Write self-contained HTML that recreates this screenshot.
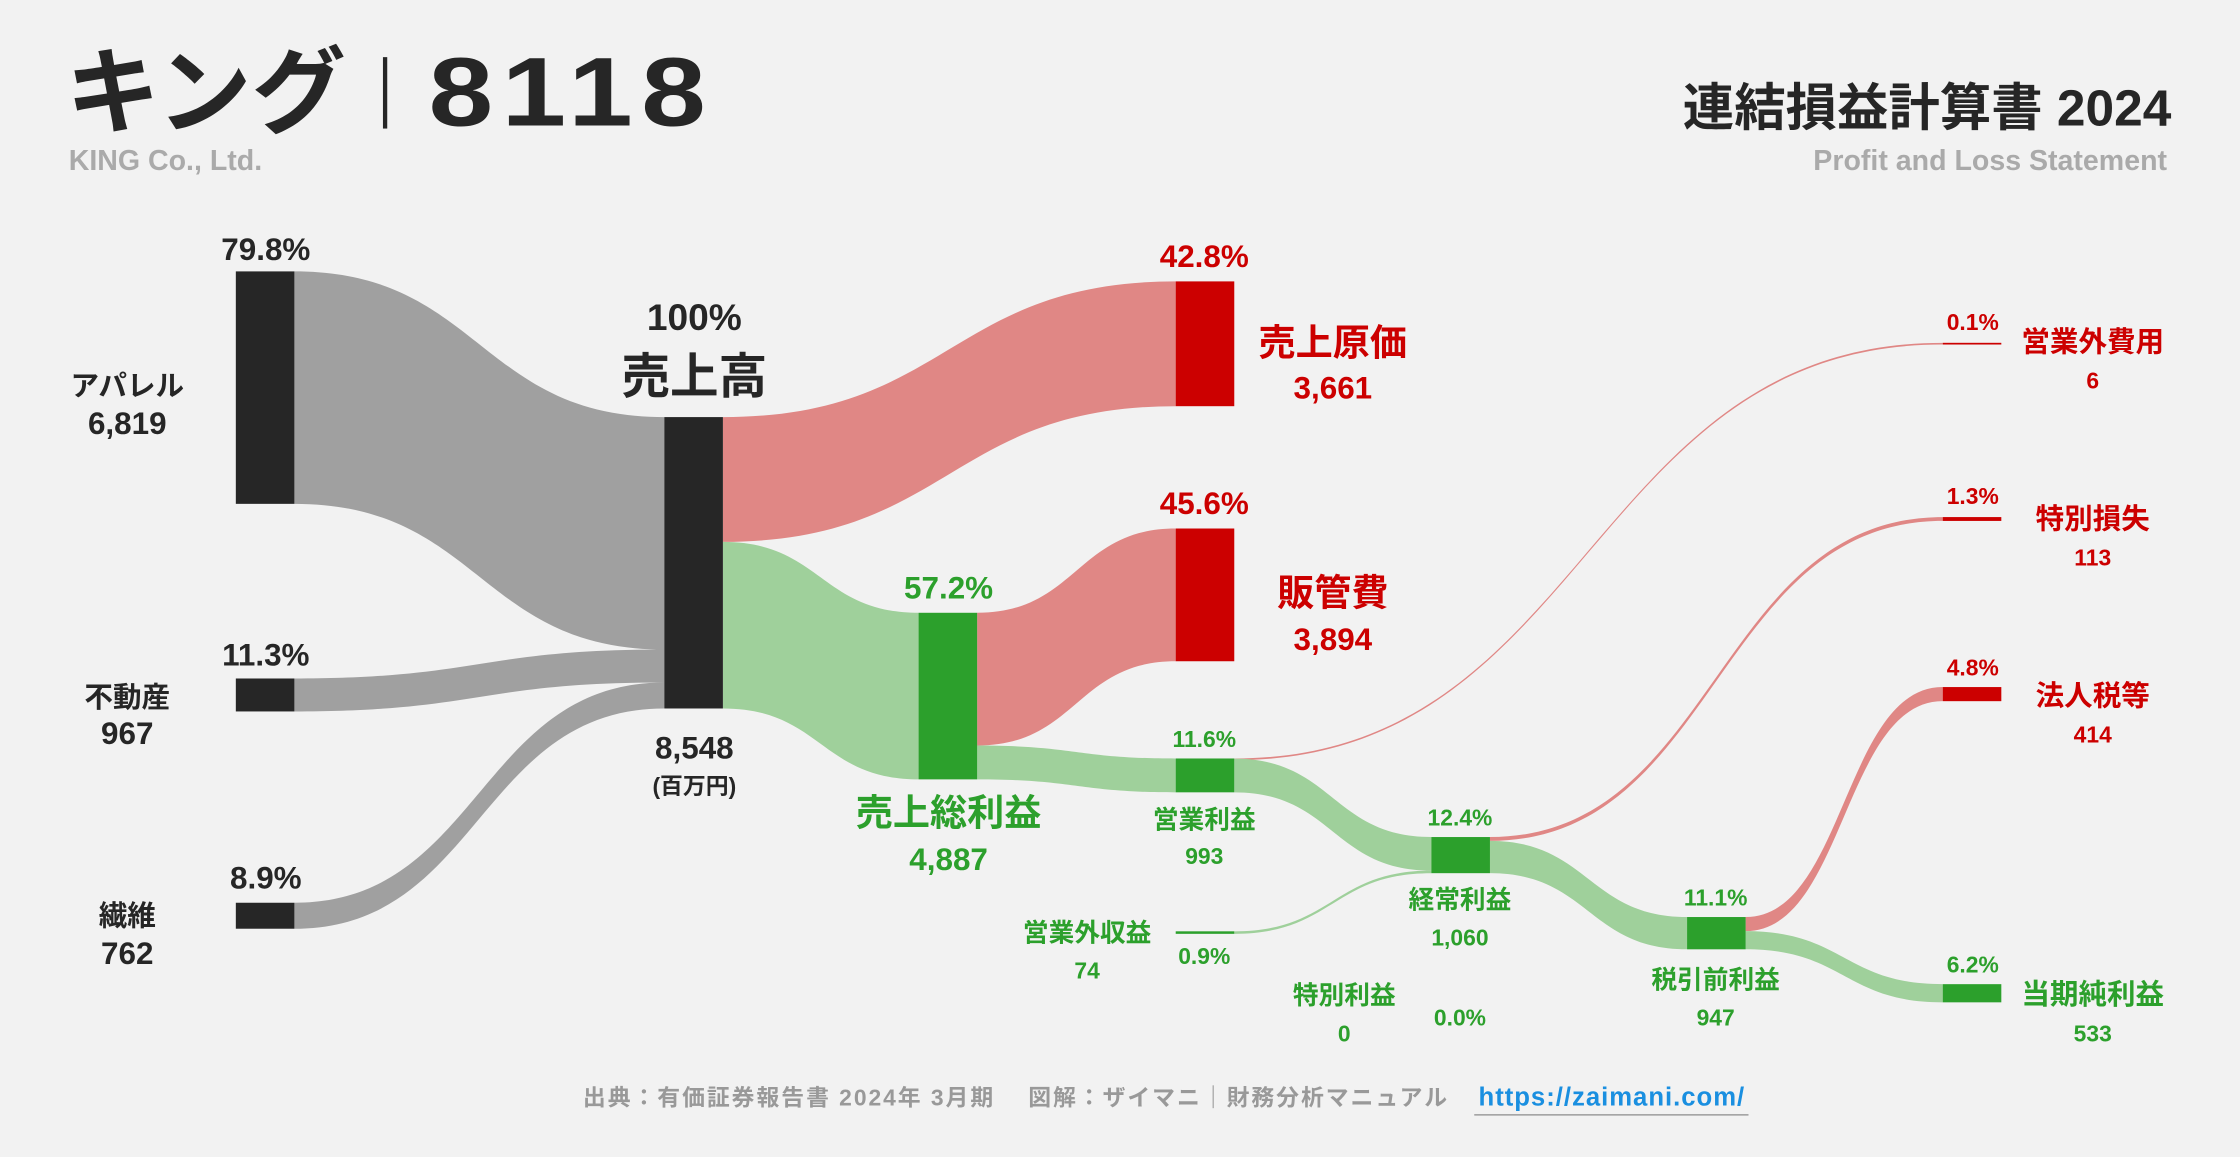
<!DOCTYPE html>
<html><head><meta charset="utf-8">
<style>
html,body{margin:0;padding:0;background:#f2f2f2;}
svg{display:block;}
text{font-family:"Liberation Sans","Noto Sans CJK JP",sans-serif;font-weight:bold;}
</style></head>
<body>
<svg id="chart" width="2240" height="1157" viewBox="0 0 1568 810" xmlns="http://www.w3.org/2000/svg">
<rect width="1568" height="810" fill="#f2f2f2"/>
<g>
<text x="46" y="88" font-size="66" fill="#262626">キング</text>
<rect x="268" y="40" width="3" height="50" fill="#262626"/>
<text x="300" y="88" font-size="68" letter-spacing="5" fill="#262626" textLength="200" lengthAdjust="spacingAndGlyphs">8118</text>
<text x="48" y="119" font-size="20" fill="#aaaaaa">KING Co., Ltd.</text>
<text x="1520" y="88" font-size="36" fill="#262626" text-anchor="end">連結損益計算書 2024</text>
<text x="1517" y="119" font-size="20" fill="#aaaaaa" text-anchor="end">Profit and Loss Statement</text>
</g>
<g id="links"></g>
<g id="nodes"></g>
<g font-size="20">
<text x="186" y="182" text-anchor="middle" font-size="22" fill="#262626">79.8%</text>
<text x="89" y="277" text-anchor="middle" font-size="20" fill="#262626">アパレル</text>
<text x="89" y="304" text-anchor="middle" font-size="22" fill="#262626">6,819</text>
<text x="186" y="466" text-anchor="middle" font-size="22" fill="#262626">11.3%</text>
<text x="89" y="495" text-anchor="middle" fill="#262626">不動産</text>
<text x="89" y="521" text-anchor="middle" font-size="22" fill="#262626">967</text>
<text x="186" y="622" text-anchor="middle" font-size="22" fill="#262626">8.9%</text>
<text x="89" y="648" text-anchor="middle" fill="#262626">繊維</text>
<text x="89" y="675" text-anchor="middle" font-size="22" fill="#262626">762</text>
<text x="486" y="231" text-anchor="middle" font-size="26" fill="#262626">100%</text>
<text x="486" y="275" text-anchor="middle" font-size="34" fill="#262626">売上高</text>
<text x="486" y="531" text-anchor="middle" font-size="22" fill="#262626">8,548</text>
<text x="486" y="556" text-anchor="middle" font-size="16" fill="#262626">(百万円)</text>
<text x="843" y="187" text-anchor="middle" font-size="22" fill="#cc0000">42.8%</text>
<text x="933" y="249" text-anchor="middle" font-size="26" fill="#cc0000">売上原価</text>
<text x="933" y="279" text-anchor="middle" font-size="22" fill="#cc0000">3,661</text>
<text x="843" y="360" text-anchor="middle" font-size="22" fill="#cc0000">45.6%</text>
<text x="933" y="424" text-anchor="middle" font-size="26" fill="#cc0000">販管費</text>
<text x="933" y="455" text-anchor="middle" font-size="22" fill="#cc0000">3,894</text>
<text x="664" y="419" text-anchor="middle" font-size="22" fill="#2ca02c">57.2%</text>
<text x="664" y="578" text-anchor="middle" font-size="26" fill="#2ca02c">売上総利益</text>
<text x="664" y="609" text-anchor="middle" font-size="22" fill="#2ca02c">4,887</text>
<text x="843" y="523" text-anchor="middle" font-size="16" fill="#2ca02c">11.6%</text>
<text x="843" y="580" text-anchor="middle" font-size="18" fill="#2ca02c">営業利益</text>
<text x="843" y="605" text-anchor="middle" font-size="16" fill="#2ca02c">993</text>
<text x="1022" y="578" text-anchor="middle" font-size="16" fill="#2ca02c">12.4%</text>
<text x="1022" y="636" text-anchor="middle" font-size="18" fill="#2ca02c">経常利益</text>
<text x="1022" y="662" text-anchor="middle" font-size="16" fill="#2ca02c">1,060</text>
<text x="1201" y="634" text-anchor="middle" font-size="16" fill="#2ca02c">11.1%</text>
<text x="1201" y="692" text-anchor="middle" font-size="18" fill="#2ca02c">税引前利益</text>
<text x="1201" y="718" text-anchor="middle" font-size="16" fill="#2ca02c">947</text>
<text x="1381" y="681" text-anchor="middle" font-size="16" fill="#2ca02c">6.2%</text>
<text x="1465" y="703" text-anchor="middle" font-size="20" fill="#2ca02c">当期純利益</text>
<text x="1465" y="729" text-anchor="middle" font-size="16" fill="#2ca02c">533</text>
<text x="1381" y="473" text-anchor="middle" font-size="16" fill="#cc0000">4.8%</text>
<text x="1465" y="494" text-anchor="middle" font-size="20" fill="#cc0000">法人税等</text>
<text x="1465" y="520" text-anchor="middle" font-size="16" fill="#cc0000">414</text>
<text x="1381" y="353" text-anchor="middle" font-size="16" fill="#cc0000">1.3%</text>
<text x="1465" y="370" text-anchor="middle" font-size="20" fill="#cc0000">特別損失</text>
<text x="1465" y="396" text-anchor="middle" font-size="16" fill="#cc0000">113</text>
<text x="1381" y="231" text-anchor="middle" font-size="16" fill="#cc0000">0.1%</text>
<text x="1465" y="246" text-anchor="middle" font-size="20" fill="#cc0000">営業外費用</text>
<text x="1465" y="272" text-anchor="middle" font-size="16" fill="#cc0000">6</text>
<text x="761" y="659" text-anchor="middle" font-size="18" fill="#2ca02c">営業外収益</text>
<text x="761" y="685" text-anchor="middle" font-size="16" fill="#2ca02c">74</text>
<text x="843" y="675" text-anchor="middle" font-size="16" fill="#2ca02c">0.9%</text>
<text x="941" y="703" text-anchor="middle" font-size="18" fill="#2ca02c">特別利益</text>
<text x="941" y="729" text-anchor="middle" font-size="16" fill="#2ca02c">0</text>
<text x="1022" y="718" text-anchor="middle" font-size="16" fill="#2ca02c">0.0%</text>
</g>
<g>
<text x="408" y="774" font-size="16" fill="#999999" textLength="605" lengthAdjust="spacing">出典：有価証券報告書 2024年 3月期　 図解：ザイマニ｜財務分析マニュアル</text>
<text x="1035" y="774" font-size="18" fill="#1a8fe0" textLength="186" lengthAdjust="spacing">https://zaimani.com/</text>
<rect x="1032" y="780" width="192" height="1" fill="#999"/>
</g>
</svg>
<script>
const nodeNames = ["apparel","realestate","textile","revenue","cost","gross","sga","op","nonopexp","ordinary","nonopinc","sploss","pretax","tax","net"];
const nodeValues = [6819,967,762,8548,3661,4887,3894,993,6,1060,74,113,947,414,533];
const linkSources = ["apparel","realestate","textile","revenue","revenue","gross","gross","op","op","nonopinc","ordinary","ordinary","pretax","pretax"];
const linkTargets = ["revenue","revenue","revenue","cost","gross","sga","op","nonopexp","ordinary","ordinary","sploss","pretax","tax","net"];
const linkValues = [6819,967,762,3661,4887,3894,993,6,987,74,113,947,414,533];
const nodeX = {apparel:165,realestate:165,textile:165,revenue:465,cost:823,gross:643,sga:823,op:823,nonopexp:1360,ordinary:1002,nonopinc:823,sploss:1360,pretax:1181,tax:1360,net:1360};
const nodeY = {apparel:190,realestate:475,textile:632,revenue:292,cost:197,gross:429,sga:370,op:531,nonopexp:240,ordinary:586,nonopinc:652,sploss:362,pretax:642,tax:481,net:689};
const nodeKind = {apparel:"k",realestate:"k",textile:"k",revenue:"k",cost:"r",gross:"g",sga:"r",op:"g",nonopexp:"r",ordinary:"g",nonopinc:"g",sploss:"r",pretax:"g",tax:"r",net:"g"};
const K = 204/8548, W = 41;
const h = v => Math.max(v*K, 1.2);
const nodeFill = {k:"#262626", r:"#cc0000", g:"#2ca02c"};
const linkFill = {k:"#a0a0a0", r:"#e08785", g:"#9fd09b"};
const NS = "http://www.w3.org/2000/svg";
const outOff = {}, inOff = {};
const gl = document.getElementById('links'), gn = document.getElementById('nodes');
linkSources.forEach((s,i)=>{
  const t = linkTargets[i], v = linkValues[i];
  const so = outOff[s]||0, to = inOff[t]||0;
  const th = h(v);
  const x1 = nodeX[s]+W, x2 = nodeX[t];
  const y1 = nodeY[s]+so, y2 = nodeY[t]+to;
  outOff[s] = so+v*K; inOff[t] = to+v*K;
  const mx = (x1+x2)/2;
  const p = document.createElementNS(NS,'path');
  p.setAttribute('d',`M${x1},${y1} C${mx},${y1} ${mx},${y2} ${x2},${y2} L${x2},${y2+th} C${mx},${y2+th} ${mx},${y1+th} ${x1},${y1+th} Z`);
  p.setAttribute('fill', linkFill[nodeKind[t]]);
  
  
  gl.appendChild(p);
});
nodeNames.forEach((n,i)=>{
  const r = document.createElementNS(NS,'rect');
  r.setAttribute('x', nodeX[n]); r.setAttribute('y', nodeY[n]);
  r.setAttribute('width', W); r.setAttribute('height', h(nodeValues[i]));
  r.setAttribute('fill', nodeFill[nodeKind[n]]);
  
  
  gn.appendChild(r);
});
</script>
</body></html>
